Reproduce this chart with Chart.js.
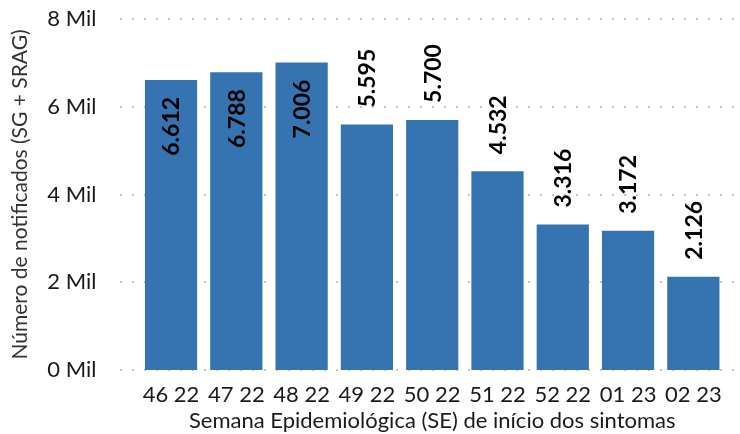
<!DOCTYPE html>
<html><head><meta charset="utf-8">
<script src="https://cdn.jsdelivr.net/npm/chart.js@4"></script>
<style>html,body{margin:0;padding:0;background:#fff;}canvas{display:block;}</style>
</head><body>
<canvas id="c" width="740" height="434"></canvas>
<script>
const categories = ['46 22','47 22','48 22','49 22','50 22','51 22','52 22','01 23','02 23'];
const notificados = [6612, 6788, 7006, 5595, 5700, 4532, 3316, 3172, 2126];
const yMax = 8000;
const yStep = 2000;
const xTitle = 'Semana Epidemiológica (SE) de início dos sintomas';
const yTitle = 'Número de notificados (SG + SRAG)';

const FONT = 'Lato';
function fmt(v){ return String(v).replace(/\B(?=(\d{3})+(?!\d))/g, '.'); }

const dottedGrid = {
  id: 'dottedGrid',
  beforeDatasetsDraw(chart){
    const y = chart.scales.y, ctx = chart.ctx;
    ctx.save();
    ctx.strokeStyle = '#c6c6c6';
    ctx.lineWidth = 2;
    ctx.setLineDash([2, 10]);
    y.ticks.forEach(t => {
      const py = Math.round(y.getPixelForValue(t.value));
      ctx.beginPath();
      ctx.moveTo(120, py); ctx.lineTo(737, py);
      ctx.stroke();
    });
    ctx.restore();
  }
};

const barLabels = {
  id: 'barLabels',
  afterDatasetsDraw(chart){
    const ctx = chart.ctx, meta = chart.getDatasetMeta(0);
    ctx.save();
    ctx.font = 'bold 23px ' + FONT;
    ctx.fillStyle = '#000';
    ctx.textBaseline = 'middle';
    meta.data.forEach((bar, i) => {
      const v = notificados[i];
      const inside = v >= 6000;
      ctx.save();
      ctx.translate(bar.x + 1, inside ? bar.y + 17 : bar.y - 17);
      ctx.rotate(-Math.PI/2);
      ctx.textAlign = inside ? 'right' : 'left';
      ctx.fillText(fmt(v), 0, 0);
      ctx.restore();
    });
    ctx.restore();
  }
};

new Chart(document.getElementById('c'), {
  type: 'bar',
  data: { labels: categories, datasets: [{ data: notificados, backgroundColor: '#3573b1', categoryPercentage: 1, barPercentage: 0.8 }] },
  options: {
    responsive: false, animation: false, devicePixelRatio: 1,
    layout: { padding: { left: 0, right: 14, top: 19, bottom: 0 } },
    plugins: { legend: { display: false }, tooltip: { enabled: false } },
    scales: {
      x: {
        grid: { display: false }, border: { display: false },
        ticks: { color: '#1a1a1a', font: { family: FONT, size: 22 }, padding: 4, maxRotation: 0, autoSkip: false },
        title: { display: true, text: xTitle, color: '#1a1a1a', font: { family: FONT, size: 22 }, padding: { top: 3, bottom: 0 } },
        afterFit(s){ s.height = 64; s.paddingLeft = 0; s.paddingRight = 0; }
      },
      y: {
        min: 0, max: yMax,
        grid: { display: false }, border: { display: false },
        ticks: { stepSize: yStep, color: '#1a1a1a', font: { family: FONT, size: 22 }, padding: 34, callback: v => (v/1000) + ' Mil' },
        title: { display: true, text: yTitle, color: '#333', font: { family: FONT, size: 21 }, padding: { top: 8, bottom: 0 } },
        afterFit(s){ s.width = 138.4; s.paddingTop = 0; s.paddingBottom = 0; }
      }
    }
  },
  plugins: [dottedGrid, barLabels]
});
</script>
</body></html>
